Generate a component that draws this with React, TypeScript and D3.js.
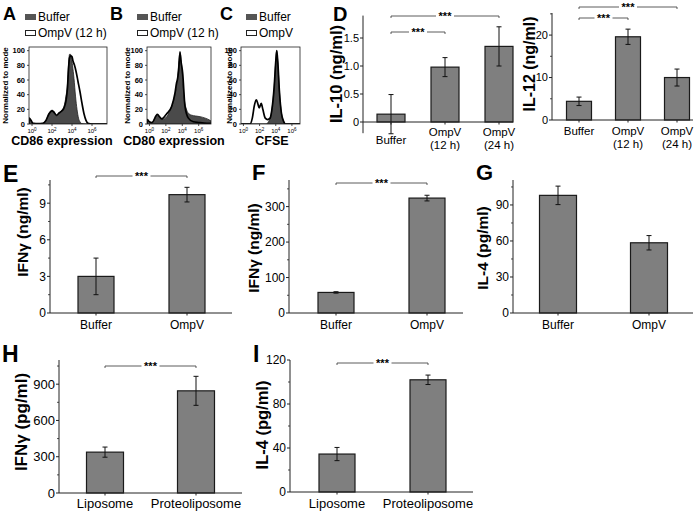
import React from 'react';
import * as d3 from 'd3';

const FF = '"Liberation Sans", Arial, Helvetica, sans-serif';
type Pt = [number, number];

// ---------- Flow cytometry histograms: [log10 intensity, % of mode] ----------
const cd86Buffer: Pt[] = [[-0.3,0],[-0.28,8],[-0.1,5],[0.1,1],[0.6,0.5],[1.1,1],[1.4,5],[1.7,14],[2.0,19],[2.2,17],[2.45,11],[2.7,14],[3.0,19],[3.2,24],[3.4,38],[3.55,55],[3.65,80],[3.75,95],[3.85,95],[3.95,90],[4.05,80],[4.2,62],[4.35,38],[4.5,20],[4.65,8],[4.8,3],[5.0,0.5],[5.3,0],[7.5,0]];
const cd86OmpV: Pt[] = [[-0.3,0],[-0.28,8],[-0.1,5],[0.1,1],[0.6,0.5],[1.1,1],[1.4,5],[1.7,14],[2.0,18],[2.2,16],[2.45,12],[2.7,15],[3.0,18],[3.2,22],[3.4,32],[3.55,50],[3.65,75],[3.75,90],[3.85,93],[4.0,92],[4.1,86],[4.25,80],[4.4,72],[4.6,58],[4.8,44],[5.0,28],[5.2,14],[5.4,5],[5.6,1],[6.0,0],[7.5,0]];
const cd80Buffer: Pt[] = [[-0.3,0],[-0.25,6],[-0.1,4],[0.3,2],[0.96,12],[1.3,9],[1.5,6],[2.1,10],[2.5,18],[2.9,30],[3.2,45],[3.4,60],[3.6,87],[3.72,99],[3.85,88],[3.95,75],[4.21,37],[4.54,19],[4.8,14],[5.15,12],[5.6,11],[6.16,10],[6.8,8],[7.38,5],[7.5,4]];
const cd80OmpV: Pt[] = [[-0.3,0],[-0.25,6],[-0.1,4],[0.3,2],[0.96,13],[1.3,9],[1.5,7],[2.1,14],[2.7,24],[3.11,42],[3.3,56],[3.4,60],[3.55,72],[3.72,97],[3.85,85],[4.05,69],[4.33,24],[4.74,8],[5.35,3],[6.0,2],[7.0,1],[7.5,1]];
const cfseBuffer: Pt[] = [[-0.3,0],[2.8,0],[3.2,5],[3.5,18],[3.8,50],[4.0,85],[4.12,100],[4.25,85],[4.45,45],[4.7,15],[5.0,3],[5.2,0],[7,0]];
const cfseOmpV: Pt[] = [[-0.3,0],[0.8,0],[1.1,8],[1.35,25],[1.6,33],[1.8,27],[1.95,22],[2.2,28],[2.4,20],[2.7,8],[3.0,6],[3.3,8],[3.5,18],[3.8,50],[4.0,85],[4.12,100],[4.25,85],[4.45,45],[4.7,15],[5.0,3],[5.2,0],[7,0]];
const histDecades = [0, 2, 4, 6];
const histPercentTicks = [0, 20, 40, 60, 80, 100];

// ---------- Bar charts ----------
const il10Categories = ['Buffer', 'OmpV\n(12 h)', 'OmpV\n(24 h)'];
const il10Means = [0.14, 0.98, 1.35];
const il10Errors = [0.35, 0.17, 0.35];
const il10Ticks = [0, 0.5, 1.0, 1.5];
const il10TickLabels = ['0', '0.5', '1.0', '1.5'];

const il12Categories = ['Buffer', 'OmpV\n(12 h)', 'OmpV\n(24 h)'];
const il12Means = [4.4, 19.6, 10.0];
const il12Errors = [1.0, 1.8, 2.0];
const il12Ticks = [0, 10, 20];
const il12TickLabels = ['0', '10', '20'];

const ifnNgCategories = ['Buffer', 'OmpV'];
const ifnNgMeans = [3.0, 9.7];
const ifnNgErrors = [1.5, 0.6];
const ifnNgTicks = [0, 3, 6, 9];
const ifnNgMinor = [1.5, 4.5, 7.5, 10.5];

const ifnNg2Categories = ['Buffer', 'OmpV'];
const ifnNg2Means = [58, 324];
const ifnNg2Errors = [2, 8];
const ifnNg2Ticks = [0, 100, 200, 300];
const ifnNg2Minor = [50, 150, 250, 350];

const il4Categories = ['Buffer', 'OmpV'];
const il4Means = [98, 58.5];
const il4Errors = [7.7, 6];
const il4Ticks = [0, 30, 60, 90];
const il4Minor = [15, 45, 75, 105];

const ifnPgCategories = ['Liposome', 'Proteoliposome'];
const ifnPgMeans = [338, 845];
const ifnPgErrors = [42, 120];
const ifnPgTicks = [0, 300, 600, 900];
const ifnPgMinor = [150, 450, 750, 1050];

const il4PgCategories = ['Liposome', 'Proteoliposome'];
const il4PgMeans = [34.5, 102];
const il4PgErrors = [6, 4.3];
const il4PgTicks = [0, 40, 80, 120];
const il4PgMinor = [20, 60, 100];

// ---------- Components ----------
type HistProps = {
  box: [number, number, number, number];
  xDomain: [number, number];
  filled: Pt[];
  line: Pt[];
  yTitleX: number;
  xTitle: string;
  xTitleX: number;
  xTitleSize: number;
};

function Hist({ box, xDomain, filled, line, yTitleX, xTitle, xTitleX, xTitleSize }: HistProps) {
  const [x0, x1, y0, y1] = box;
  const x = d3.scaleLinear().domain(xDomain).range([x0, x1]);
  const y = d3.scaleLinear().domain([0, 105]).range([y1, y0]);
  const area = d3.area<Pt>().x(d => x(d[0])).y0(y1).y1(d => y(d[1])).curve(d3.curveMonotoneX);
  const ln = d3.line<Pt>().x(d => x(d[0])).y(d => y(d[1])).curve(d3.curveMonotoneX);
  const id = `clip${x0}`;
  return (
    <g>
      <defs>
        <clipPath id={id}><rect x={x0} y={y0} width={x1 - x0} height={y1 - y0} /></clipPath>
      </defs>
      <g clipPath={`url(#${id})`}>
        <path d={area(filled) || ''} fill="#4a4a4a" stroke="#222" strokeWidth={0.8} />
        <path d={ln(line) || ''} fill="none" stroke="#000" strokeWidth={1.7} />
      </g>
      <rect x={x0} y={y0} width={x1 - x0} height={y1 - y0} fill="none" stroke="#222" strokeWidth={0.8} />
      {histPercentTicks.map(t => (
        <g key={t}>
          <line x1={x0 - 2} x2={x0} y1={y(t)} y2={y(t)} stroke="#222" strokeWidth={0.8} />
          <text x={x0 - 4} y={y(t) + 2.7} fontSize={7.5} fontWeight="bold" textAnchor="end" fontFamily={FF}>{t}</text>
        </g>
      ))}
      {histDecades.map(t => (
        <g key={t}>
          <line x1={x(t)} x2={x(t)} y1={y1} y2={y1 + 2} stroke="#222" strokeWidth={0.8} />
          <text x={x(t)} y={y1 + 9} fontSize={6} textAnchor="middle" fontFamily={FF}>
            10<tspan fontSize={4.5} dy={-2.5}>{t}</tspan>
          </text>
        </g>
      ))}
      <text transform={`translate(${yTitleX},${(y0 + y1) / 2}) rotate(-90)`} fontSize={8} fontWeight="bold" textAnchor="middle" fontFamily={FF}>Normalized to mode</text>
      <text x={xTitleX} y={y1 + 21} fontSize={xTitleSize} fontWeight="bold" textAnchor="middle" fontFamily={FF}>{xTitle}</text>
    </g>
  );
}

type Bracket = { a: number; b: number; y: number };
type BarProps = {
  cats: string[];
  means: number[];
  errs: number[];
  ticks: number[];
  tickLabels?: string[];
  minor?: number[];
  yDomain: [number, number];
  yRange: [number, number];
  axisX: number;
  xEnd: number;
  centers: [number, number];
  barW: number;
  title: string;
  titleX: number;
  titleY: number;
  titleSize: number;
  tickSize: number;
  catSize: number;
  catY: number[];
  brackets: Bracket[];
};

function Bars(p: BarProps) {
  const y = d3.scaleLinear().domain(p.yDomain).range(p.yRange);
  const x = d3.scalePoint<string>().domain(p.cats).range(p.centers);
  const zero = y(0);
  return (
    <g fontFamily={FF}>
      {p.means.map((m, i) => {
        const cx = x(p.cats[i]) as number;
        return (
          <g key={i}>
            <rect x={cx - p.barW / 2} y={Math.min(y(m), zero)} width={p.barW} height={Math.abs(zero - y(m))} fill="#7f7f7f" stroke="#1a1a1a" strokeWidth={1.2} />
            <line x1={cx} x2={cx} y1={y(m - p.errs[i])} y2={y(m + p.errs[i])} stroke="#111" strokeWidth={1} />
            <line x1={cx - 2.5} x2={cx + 2.5} y1={y(m - p.errs[i])} y2={y(m - p.errs[i])} stroke="#111" strokeWidth={1} />
            <line x1={cx - 2.5} x2={cx + 2.5} y1={y(m + p.errs[i])} y2={y(m + p.errs[i])} stroke="#111" strokeWidth={1} />
          </g>
        );
      })}
      <line x1={p.axisX} x2={p.axisX} y1={p.yRange[0]} y2={p.yRange[1]} stroke="#222" strokeWidth={1} />
      <line x1={p.axisX} x2={p.xEnd} y1={zero} y2={zero} stroke="#222" strokeWidth={1} />
      {p.ticks.map((t, i) => (
        <g key={t}>
          <line x1={p.axisX - 3} x2={p.axisX} y1={y(t)} y2={y(t)} stroke="#222" strokeWidth={1} />
          <text x={p.axisX - 4} y={y(t) + p.tickSize * 0.36} fontSize={p.tickSize} textAnchor="end">{p.tickLabels ? p.tickLabels[i] : String(t)}</text>
        </g>
      ))}
      {(p.minor || []).map(t => (
        <line key={t} x1={p.axisX - 2} x2={p.axisX} y1={y(t)} y2={y(t)} stroke="#222" strokeWidth={0.8} />
      ))}
      {p.cats.map((c, i) => {
        const cx = x(c) as number;
        return (
          <g key={c}>
            <line x1={cx} x2={cx} y1={zero} y2={zero + 2.5} stroke="#222" strokeWidth={1} />
            {c.split('\n').map((s, j) => (
              <text key={j} x={cx} y={p.catY[i] + j * p.catSize * 1.15} fontSize={p.catSize} textAnchor="middle">{s}</text>
            ))}
          </g>
        );
      })}
      {p.brackets.map((b, i) => {
        const xa = x(p.cats[b.a]) as number;
        const xb = x(p.cats[b.b]) as number;
        const mid = (xa + xb) / 2;
        return (
          <g key={i}>
            <line x1={xa} x2={mid - 9} y1={b.y} y2={b.y} stroke="#333" strokeWidth={0.8} />
            <line x1={mid + 9} x2={xb} y1={b.y} y2={b.y} stroke="#333" strokeWidth={0.8} />
            <line x1={xa} x2={xa} y1={b.y} y2={b.y + 2} stroke="#333" strokeWidth={0.8} />
            <line x1={xb} x2={xb} y1={b.y} y2={b.y + 2} stroke="#333" strokeWidth={0.8} />
            <text x={mid} y={b.y + 4} fontSize={11} fontWeight="bold" textAnchor="middle">***</text>
          </g>
        );
      })}
      <text transform={`translate(${p.titleX},${p.titleY}) rotate(-90)`} fontSize={p.titleSize} fontWeight="bold" textAnchor="middle">{p.title}</text>
    </g>
  );
}

function Letter({ x, y, s, size }: { x: number; y: number; s: string; size: number }) {
  return <text x={x} y={y} fontSize={size} fontWeight="bold" fontFamily={FF}>{s}</text>;
}

function Legend({ x, y, second }: { x: number; y: number; second: string }) {
  return (
    <g fontFamily={FF}>
      <rect x={x} y={y - 7} width={11} height={6} fill="#555" />
      <text x={x + 13} y={y} fontSize={12}>Buffer</text>
      <rect x={x + 0.5} y={y + 9.5} width={10} height={5} fill="#fff" stroke="#222" strokeWidth={1} />
      <text x={x + 13} y={y + 16} fontSize={12}>{second}</text>
    </g>
  );
}

export default function App() {
  return (
    <svg width={696} height={511} style={{ position: 'absolute', left: 0, top: 0, background: '#fff' }}>
      <rect width={696} height={511} fill="#fff" />
      {/* A B C */}
      <Letter x={3} y={20} s="A" size={18} />
      <Legend x={25} y={21} second="OmpV (12 h)" />
      <Hist box={[29, 107, 47, 124]} xDomain={[-0.3, 7.5]} filled={cd86Buffer} line={cd86OmpV} yTitleX={8} xTitle="CD86 expression" xTitleX={62} xTitleSize={12.5} />
      <Letter x={110} y={20} s="B" size={18} />
      <Legend x={137} y={21} second="OmpV (12 h)" />
      <Hist box={[147, 211, 47, 124]} xDomain={[-0.3, 7.5]} filled={cd80Buffer} line={cd80OmpV} yTitleX={130} xTitle="CD80 expression" xTitleX={174} xTitleSize={12.5} />
      <Letter x={220} y={20} s="C" size={18} />
      <Legend x={246} y={21} second="OmpV" />
      <Hist box={[241, 300, 47, 124]} xDomain={[-0.3, 7]} filled={cfseBuffer} line={cfseOmpV} yTitleX={232} xTitle="CFSE" xTitleX={272} xTitleSize={12.5} />

      {/* D */}
      <Letter x={333} y={21} s="D" size={20} />
      <Bars cats={il10Categories} means={il10Means} errs={il10Errors} ticks={il10Ticks} tickLabels={il10TickLabels}
        yDomain={[-0.2, 1.9]} yRange={[133.2, 15.6]} axisX={363} xEnd={513} centers={[391, 499]} barW={28}
        title="IL-10 (ng/ml)" titleX={342} titleY={74} titleSize={16.5} tickSize={11} catSize={11.5} catY={[144, 136, 136]}
        brackets={[{ a: 0, b: 2, y: 16 }, { a: 0, b: 1, y: 32 }]} />
      <Bars cats={il12Categories} means={il12Means} errs={il12Errors} ticks={il12Ticks} tickLabels={il12TickLabels} minor={[5, 15, 25]}
        yDomain={[0, 25.2]} yRange={[120, 13]} axisX={552} xEnd={693} centers={[579, 677]} barW={25}
        title="IL-12 (ng/ml)" titleX={535} titleY={64} titleSize={16} tickSize={11} catSize={11.5} catY={[135, 135, 135]}
        brackets={[{ a: 0, b: 2, y: 7 }, { a: 0, b: 1, y: 18 }]} />

      {/* E F G */}
      <Letter x={3} y={182} s="E" size={23} />
      <Bars cats={ifnNgCategories} means={ifnNgMeans} errs={ifnNgErrors} ticks={ifnNgTicks} minor={ifnNgMinor}
        yDomain={[0, 10.9]} yRange={[313, 180]} axisX={50} xEnd={232} centers={[96, 187]} barW={36}
        title="IFNγ (ng/ml)" titleX={28} titleY={232} titleSize={15.5} tickSize={12} catSize={12} catY={[329, 329]}
        brackets={[{ a: 0, b: 1, y: 176 }]} />
      <Letter x={252} y={180} s="F" size={22} />
      <Bars cats={ifnNg2Categories} means={ifnNg2Means} errs={ifnNg2Errors} ticks={ifnNg2Ticks} minor={ifnNg2Minor}
        yDomain={[0, 375]} yRange={[313, 180]} axisX={289} xEnd={463} centers={[336, 427]} barW={36}
        title="IFNγ (ng/ml)" titleX={259} titleY={248} titleSize={15.5} tickSize={12} catSize={12} catY={[329, 329]}
        brackets={[{ a: 0, b: 1, y: 183 }]} />
      <Letter x={476} y={180} s="G" size={22} />
      <Bars cats={il4Categories} means={il4Means} errs={il4Errors} ticks={il4Ticks} minor={il4Minor}
        yDomain={[0, 110.8]} yRange={[313, 180]} axisX={513} xEnd={693} centers={[558, 649]} barW={37}
        title="IL-4 (pg/ml)" titleX={488} titleY={248} titleSize={15.5} tickSize={12} catSize={12} catY={[329, 329]}
        brackets={[]} />

      {/* H I */}
      <Letter x={2} y={362} s="H" size={23} />
      <Bars cats={ifnPgCategories} means={ifnPgMeans} errs={ifnPgErrors} ticks={ifnPgTicks} minor={ifnPgMinor}
        yDomain={[0, 1100]} yRange={[493, 360]} axisX={59} xEnd={242} centers={[105, 196]} barW={37}
        title="IFNγ (pg/ml)" titleX={27} titleY={422} titleSize={17} tickSize={13} catSize={13} catY={[508, 508]}
        brackets={[{ a: 0, b: 1, y: 366 }]} />
      <Letter x={253} y={362} s="I" size={23} />
      <Bars cats={il4PgCategories} means={il4PgMeans} errs={il4PgErrors} ticks={il4PgTicks} minor={il4PgMinor}
        yDomain={[0, 120]} yRange={[492, 360]} axisX={290} xEnd={473} centers={[337, 428]} barW={36}
        title="IL-4 (pg/ml)" titleX={268} titleY={425} titleSize={16.5} tickSize={12} catSize={13} catY={[508, 508]}
        brackets={[{ a: 0, b: 1, y: 363 }]} />
    </svg>
  );
}
